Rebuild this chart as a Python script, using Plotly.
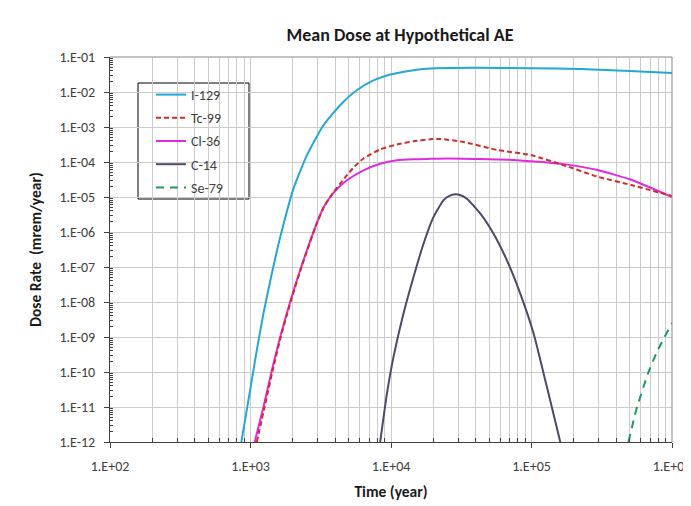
import plotly.graph_objects as go

# ---------------- data ----------------
i129_t = [861, 993, 1109, 1236, 1419, 1607, 2023, 2518, 3304, 4345, 5715, 7499,
          9863, 13710, 19010, 39810, 100000, 223900, 501200, 1000000]
i129_y = [1e-12, 3.0e-11, 4.2e-10, 4.7e-9, 6.5e-8, 5.8e-7, 1.74e-5, 1.55e-4, 1.12e-3,
          4.2e-3, 1.12e-2, 2.14e-2, 3.16e-2, 4.07e-2, 4.68e-2, 4.9e-2, 4.8e-2,
          4.57e-2, 3.98e-2, 3.47e-2]

tc99_t = [1109, 1259, 1439, 1641, 1928, 2328, 2965, 3311, 3690, 4111, 4467, 4853,
          5495, 6368, 8375, 11020, 14450, 19050, 22540, 32890, 57540, 98860, 169800,
          295100, 512900, 1000000]
tc99_y = [1e-12, 1e-11, 1.12e-10, 1e-9, 1e-8, 1.12e-7, 1.78e-6, 5.0e-6, 1.0e-5, 1.82e-5,
          2.75e-5, 4.2e-5, 7.4e-5, 1.26e-4, 2.29e-4, 3.16e-4, 3.89e-4, 4.47e-4, 4.57e-4,
          3.72e-4, 2.19e-4, 1.58e-4, 8.1e-5, 3.8e-5, 2.19e-5, 1.07e-5]

cl36_t = [1072, 1236, 1419, 1626, 1914, 2317, 2965, 3311, 3690, 4111, 4467, 4853,
          6368, 8375, 11020, 14450, 19050, 25120, 74130, 169800, 295100, 512900,
          1000000]
cl36_y = [1e-12, 1e-11, 1.12e-10, 1e-9, 1e-8, 1.12e-7, 1.78e-6, 5.0e-6, 1.0e-5, 1.66e-5,
          2.29e-5, 3.0e-5, 5.75e-5, 8.9e-5, 1.12e-4, 1.2e-4, 1.23e-4, 1.26e-4, 1.15e-4,
          8.7e-5, 5.9e-5, 3.1e-5, 1.0e-5]

c14_t = [8375, 9354, 10420, 12270, 14450, 17060, 20090, 23660, 26000, 28640, 31620,
         34670, 43150, 53700, 66830, 83180, 103500, 128800, 160300]
c14_y = [1e-12, 2.4e-11, 2.7e-10, 4.7e-9, 5.1e-8, 4.7e-7, 2.7e-6, 8.1e-6, 1.07e-5,
         1.2e-5, 1.1e-5, 8.9e-6, 3.4e-6, 8.9e-7, 1.55e-7, 1.74e-8, 1.26e-9, 3.7e-11,
         1e-12]

se79_t = [490000, 556000, 676000, 794000, 1000000]
se79_y = [1e-12, 8.1e-12, 9.3e-11, 4.3e-10, 2.5e-9]

x_ticks = [1e2, 1e3, 1e4, 1e5, 1e6]
x_ticktext = ["1.E+02", "1.E+03", "1.E+04", "1.E+05", "1.E+06"]
y_ticks = [10.0 ** (-k) for k in range(1, 13)]
y_ticktext = ["1.E-01", "1.E-02", "1.E-03", "1.E-04", "1.E-05", "1.E-06",
              "1.E-07", "1.E-08", "1.E-09", "1.E-10", "1.E-11", "1.E-12"]

FONT = "Carlito, Calibri, 'Liberation Sans', Arial, sans-serif"

# drawn bottom-to-top (Tc-99 dashes over Cl-36); legendrank fixes legend order
series = [
    ("Se-79", se79_t, se79_y, "#1E9A60", "8px,6px", 5),
    ("C-14", c14_t, c14_y, "#4E4A66", "solid", 4),
    ("Cl-36", cl36_t, cl36_y, "#E02AE0", "solid", 3),
    ("Tc-99", tc99_t, tc99_y, "#D42A2A", "5px,3px", 2),
    ("I-129", i129_t, i129_y, "#23A8D4", "solid", 1),
]

fig = go.Figure()
for name, t, y, color, dash, rank in series:
    fig.add_trace(go.Scatter(
        x=t, y=y, name=name, mode="lines", legendgroup=name, legendrank=rank,
        line=dict(color=color, width=2, dash=dash, shape="spline", smoothing=0.5),
    ))

minor_x = [m * 10 ** k for k in range(2, 6) for m in range(2, 10)]
minor_y = [m * 10.0 ** k for k in range(-12, -1) for m in range(2, 10)]

# page has an 8px body margin; figure runs to the window's right/bottom edges
OFF = 8
W, H = 691 - OFF, 506 - OFF
L, T = 110 - OFF, 57 - OFF
R = W - (672 - OFF)
B = H - (442 - OFF)
pw, ph = W - L - R, H - T - B


def px_x(x):
    return (x - OFF - L) / pw


def px_y(y):
    return (H - B - (y - OFF)) / ph


fig.update_layout(
    width=W, height=H,
    margin=dict(l=L, r=R, t=T, b=B),
    paper_bgcolor="white", plot_bgcolor="white",
    font=dict(family=FONT, size=14, color="#404040"),
    title=dict(text="<b>Mean Dose at Hypothetical AE</b>", x=(400 - OFF) / W,
               xanchor="center", y=1 - (35 - OFF) / H, yanchor="middle",
               font=dict(family=FONT, size=18, color="#1a1a1a")),
    showlegend=True,
    legend=dict(x=px_x(151), y=px_y(79), xanchor="left", yanchor="top",
                borderwidth=0, bgcolor="rgba(255,255,255,0)",
                font=dict(family=FONT, size=14, color="#404040"),
                traceorder="grouped", tracegroupgap=2),
    xaxis=dict(
        type="log", range=[2, 6], automargin=False,
        tickmode="array", tickvals=x_ticks, ticktext=x_ticktext,
        ticklabeloverflow="allow",
        showline=True, linecolor="#404040", linewidth=1,
        ticks="outside", ticklen=5, tickcolor="#404040",
        showgrid=True, gridcolor="#CCCCCC", gridwidth=1,
        zeroline=False,
        minor=dict(tickmode="array", tickvals=minor_x, ticks="inside", ticklen=4,
                   tickcolor="#404040", showgrid=True, gridcolor="#CCCCCC", gridwidth=1),
        title=dict(text="<b>Time (year)</b>", standoff=12,
                   font=dict(family=FONT, size=15.5, color="#1a1a1a")),
        ticklabelstandoff=6,
    ),
    yaxis=dict(
        type="log", range=[-12, -1], automargin=False,
        tickmode="array", tickvals=y_ticks, ticktext=y_ticktext,
        ticklabeloverflow="allow",
        showline=True, linecolor="#404040", linewidth=1,
        ticks="outside", ticklen=5, tickcolor="#404040",
        showgrid=True, gridcolor="#CCCCCC", gridwidth=1,
        zeroline=False,
        minor=dict(tickmode="array", tickvals=minor_y, ticks="inside", ticklen=3,
                   tickcolor="#404040", showgrid=False),
        title=dict(text="<b>Dose Rate  (mrem/year)</b>", standoff=14,
                   font=dict(family=FONT, size=15.5, color="#1a1a1a")),
        ticklabelstandoff=6,
    ),
    shapes=[
        dict(type="line", xref="paper", yref="paper", x0=0, x1=1, y0=1, y1=1,
             line=dict(color="#888888", width=1)),
        dict(type="line", xref="paper", yref="paper", x0=1, x1=1, y0=0, y1=1,
             line=dict(color="#888888", width=1)),
        dict(type="rect", xref="paper", yref="paper",
             x0=px_x(138), x1=px_x(249), y0=px_y(199), y1=px_y(83),
             line=dict(color="#000000", width=1), fillcolor="white", layer="below"),
    ],
)

fig.write_html("out.html")
